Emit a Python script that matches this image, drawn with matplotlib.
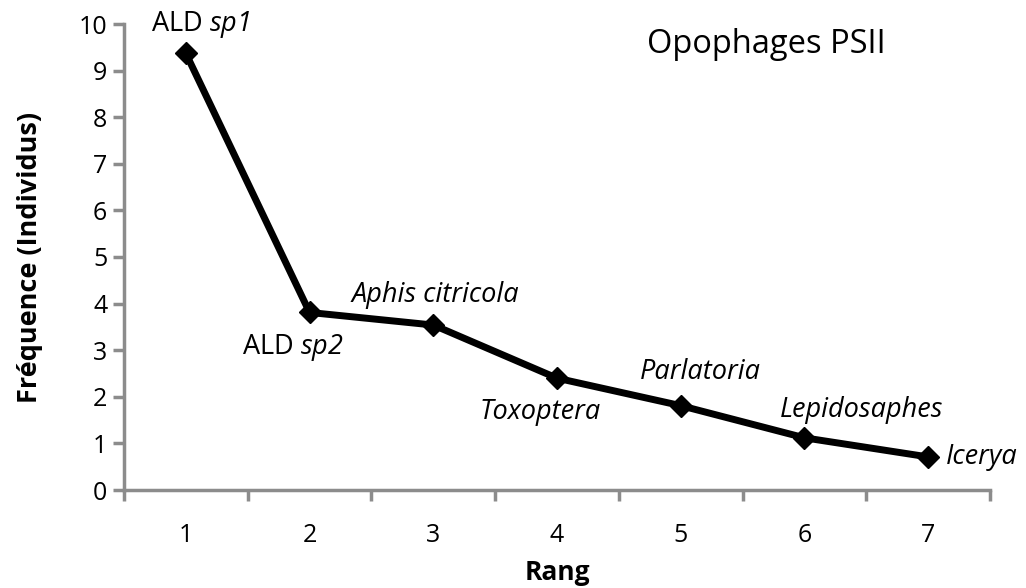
import numpy as np
import matplotlib.pyplot as plt

plt.rcParams['font.family'] = ['Open Sans', 'DejaVu Sans']
plt.rcParams['mathtext.fontset'] = 'custom'
plt.rcParams['mathtext.rm'] = 'Open Sans'
# \mathbf sert ici d'italique pour garder les chiffres en italique
plt.rcParams['mathtext.bf'] = 'Open Sans:italic'

# données
rang = [1, 2, 3, 4, 5, 6, 7]
frequence = [9.37, 3.81, 3.54, 2.40, 1.81, 1.12, 0.71]
especes = ['ALD $\\mathbf{sp1}$', 'ALD $\\mathbf{sp2}$', 'Aphis citricola',
           'Toxoptera', 'Parlatoria', 'Lepidosaphes', 'Icerya']
italique = [False, False, True, True, True, True, True]
# décalage des étiquettes (pixels) et alignement
decalage = [(15, 29), (-17, -35), (2, 30), (-17, -34), (20, 34), (57, 28), (18, 0)]
alignement = ['center', 'center', 'center', 'center', 'center', 'center', 'left']

fig = plt.figure(figsize=(10.26, 5.88), dpi=100)
ax = fig.add_axes([124 / 1026, 98 / 588, 866 / 1026, 466 / 588])

ax.plot(rang, frequence, color='black', linewidth=5, marker='D', markersize=11,
        markerfacecolor='black', markeredgecolor='black', zorder=3)

for x, y, nom, it, dec, ha in zip(rang, frequence, especes, italique, decalage, alignement):
    ax.annotate(nom, (x, y), xytext=dec, textcoords='offset pixels',
                ha=ha, va='center', fontsize=19.5,
                fontstyle='italic' if it else 'normal')

ax.set_xlim(0.5, 7.5)
ax.set_ylim(0, 10)
ax.set_yticks(np.arange(0, 11, 1))
ax.set_xticks(rang)
ax.set_xticks(np.arange(0.5, 8, 1), minor=True)
ax.tick_params(axis='x', which='major', length=0, pad=24, labelsize=18)
ax.tick_params(axis='x', which='minor', length=8, width=2.5, color='#8c8c8c')
ax.tick_params(axis='y', which='major', length=8, width=2.5, color='#8c8c8c',
               labelsize=18, pad=4)

for s in ['top', 'right']:
    ax.spines[s].set_visible(False)
for s in ['left', 'bottom']:
    ax.spines[s].set_color('#8c8c8c')
    ax.spines[s].set_linewidth(2.5)

ax.set_xlabel('Rang', fontsize=19, fontweight='bold', labelpad=8)
ax.set_ylabel('Fréquence (Individus)', fontsize=19.5, fontweight='bold', labelpad=26)
ax.text(0.742, 0.955, 'Opophages PSII', transform=ax.transAxes, ha='center',
        va='center', fontsize=23.5)

fig.savefig('out.png', dpi=100)
